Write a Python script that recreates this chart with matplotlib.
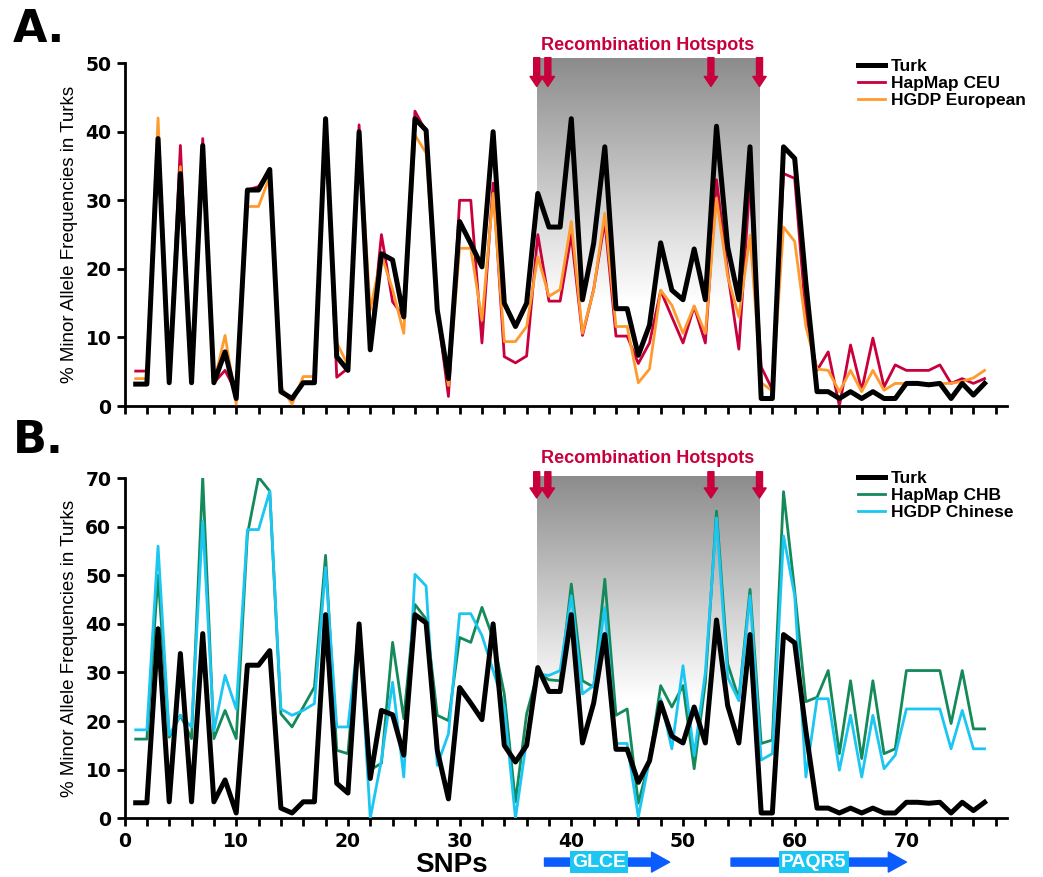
import numpy as np
import matplotlib
matplotlib.use('Agg')
from matplotlib import pyplot as plt

# data, SNP 1..77
snps = list(range(1, 78))

turk = [3.2, 3.2, 39.0, 3.4, 33.9, 3.4, 38.0, 3.4, 7.9, 1.1,
        31.5, 31.5, 34.5, 2.1, 1.1, 3.4, 3.4, 41.9, 7.2, 5.2,
        40.0, 8.2, 22.2, 21.3, 13.0, 41.9, 40.2, 14.0, 4.0, 26.9,
        23.7, 20.3, 40.0, 15.0, 11.6, 15.0, 31.0, 26.1, 26.1, 41.9,
        15.5, 23.7, 37.8, 14.2, 14.2, 7.4, 11.8, 23.8, 16.9, 15.5,
        22.9, 15.5, 40.8, 23.2, 15.5, 37.8, 1.1, 1.1, 37.8, 36.1,
        18.0, 2.1, 2.1, 1.1, 2.1, 1.1, 2.1, 1.1, 1.1, 3.3,
        3.3, 3.1, 3.3, 1.1, 3.3, 1.6, 3.3]

hapmap_ceu = [5.1, 5.1, 39.5, 3.4, 38.0, 3.4, 39.0, 3.4, 5.2, 2.0,
              31.5, 32.0, 34.5, 2.1, 1.1, 3.4, 3.4, 42.0, 4.2, 5.5,
              41.0, 8.5, 25.0, 15.2, 13.0, 43.0, 40.0, 14.0, 1.4, 30.0,
              30.0, 9.2, 32.5, 7.2, 6.3, 7.3, 25.0, 15.3, 15.3, 25.0,
              10.3, 17.0, 27.0, 10.2, 10.2, 6.2, 9.2, 16.8, 13.0, 9.2,
              14.5, 9.2, 33.0, 19.5, 8.3, 33.0, 5.7, 2.4, 33.9, 33.2,
              13.0, 5.2, 7.9, 0.0, 8.9, 2.3, 9.9, 2.8, 6.0, 5.2,
              5.2, 5.2, 6.0, 3.3, 4.0, 3.3, 4.0]

hgdp_european = [4.0, 4.0, 42.0, 3.4, 34.9, 3.4, 37.5, 3.4, 10.3, 0.3,
                 29.1, 29.1, 33.5, 2.8, 0.3, 4.3, 4.3, 41.5, 9.2, 6.0,
                 40.0, 14.0, 22.0, 17.0, 10.6, 39.5, 36.9, 14.0, 3.0, 23.0,
                 23.0, 12.5, 31.0, 9.4, 9.4, 11.6, 21.8, 16.0, 17.0, 26.9,
                 10.6, 16.9, 28.1, 11.6, 11.6, 3.4, 5.4, 16.9, 14.7, 10.6,
                 14.6, 10.6, 30.3, 18.9, 13.0, 24.9, 3.4, 2.2, 26.1, 24.0,
                 11.6, 5.4, 5.2, 2.1, 5.2, 2.1, 5.2, 2.3, 3.3, 3.3,
                 3.3, 3.3, 3.3, 3.3, 3.6, 4.1, 5.2]

hapmap_chb = [16.3, 16.3, 50.0, 16.7, 21.2, 16.4, 70.2, 16.4, 22.2, 16.4,
              58.4, 70.2, 67.3, 21.5, 18.8, 22.9, 27.0, 54.1, 14.0, 13.3,
              40.0, 10.0, 11.3, 36.2, 20.5, 44.0, 41.0, 21.2, 20.1, 37.2,
              36.2, 43.4, 37.0, 25.6, 3.4, 21.5, 30.0, 28.5, 28.3, 48.2,
              28.3, 27.0, 49.2, 21.2, 22.5, 3.1, 12.0, 27.3, 22.9, 27.3,
              10.2, 28.0, 63.2, 31.8, 24.6, 47.1, 15.4, 16.1, 67.2, 46.8,
              24.0, 24.9, 30.4, 13.3, 28.3, 12.3, 28.3, 13.3, 14.3, 30.4,
              30.4, 30.4, 30.4, 19.5, 30.4, 18.4, 18.4]

hgdp_chinese = [18.2, 18.2, 56.0, 17.1, 21.2, 18.8, 61.1, 18.0, 29.4, 22.5,
                59.4, 59.4, 67.3, 22.5, 21.2, 22.2, 23.6, 51.6, 18.8, 18.8,
                39.0, 0.0, 12.0, 28.0, 8.5, 50.2, 47.8, 10.9, 17.4, 42.1,
                42.1, 37.6, 30.4, 22.9, 0.0, 16.1, 29.7, 29.4, 30.4, 45.8,
                25.6, 27.3, 43.4, 15.4, 15.4, 0.3, 12.0, 24.6, 14.3, 31.4,
                13.0, 30.0, 61.8, 29.0, 24.2, 45.8, 12.0, 13.3, 58.1, 45.8,
                8.5, 24.6, 24.6, 9.9, 21.2, 8.5, 21.2, 10.2, 13.0, 22.5,
                22.5, 22.5, 22.5, 14.3, 22.2, 14.3, 14.3]

hotspots = [36.9, 37.9, 52.5, 56.85]
genes = ['GLCE', 'PAQR5']
gene_start = [37.6, 54.3]
gene_end = [48.8, 70.0]
gene_label_x = [42.5, 61.7]

RED = '#C8003C'
ORANGE = '#FF9A2E'
GREEN = '#14895A'
CYAN = '#1CC6F2'
BLUE = '#0A5CFF'

plt.rcParams['font.family'] = ['Liberation Sans', 'DejaVu Sans']

fig = plt.figure(figsize=(10.43, 8.77), dpi=100)
axA = fig.add_axes([0.1194, 0.537, 0.846, 0.391])
axB = fig.add_axes([0.1194, 0.0669, 0.846, 0.388])


def shade(ax, top, fade):
    # grey gradient behind the hotspot region: dark at top, white below `fade`
    g = np.linspace(1, 0, 300)          # row 0 = top
    c = 1 - 0.45 * np.clip((g - fade) / (1 - fade), 0, 1)
    img = np.stack([c, c, c], axis=-1).reshape(300, 1, 3)
    ax.imshow(img, extent=[hotspots[0], hotspots[-1], 0, top], aspect='auto',
              zorder=0, clip_on=False, interpolation='bilinear')


def hotspot_arrows(ax, y_top, y_tip, y_text):
    for h in hotspots:
        ax.annotate('', xy=(h, y_tip), xytext=(h, y_top), annotation_clip=False,
                    arrowprops=dict(arrowstyle='simple,head_length=0.6,head_width=0.8,tail_width=0.36',
                                    mutation_scale=12, color=RED, shrinkA=0, shrinkB=0))
    ax.text((hotspots[0] + hotspots[-1]) / 2, y_text, 'Recombination Hotspots', color=RED,
            fontsize=13, fontweight='bold', ha='center', va='center', clip_on=False)


def style(ax, ymax):
    ax.set_xlim(0, 79)
    ax.set_ylim(0, ymax)
    for s in ['top', 'right']:
        ax.spines[s].set_visible(False)
    for s in ['left', 'bottom']:
        ax.spines[s].set_linewidth(2)
    ax.set_xticks(range(0, 80, 10))
    ax.set_xticks(range(0, 80, 2), minor=True)
    ax.set_yticks(range(0, ymax + 1, 10))
    ax.tick_params(which='both', direction='out', length=6, width=2)
    for lab in ax.get_yticklabels() + ax.get_xticklabels():
        lab.set_family('DejaVu Sans')
        lab.set_fontweight('bold')
        lab.set_fontsize(13.5)
    ax.set_ylabel('% Minor Allele Frequencies in Turks', fontsize=13.5,
                  family=['Liberation Sans Narrow', 'Liberation Sans'], labelpad=5)


def legend(ax, y):
    h, l = ax.get_legend_handles_labels()
    ax.legend([h[2], h[0], h[1]], [l[2], l[0], l[1]], loc='upper left', bbox_to_anchor=(0.831, y),
              frameon=False, prop=dict(weight='bold', size=12.5), handlelength=1.55,
              handletextpad=0.35, labelspacing=0.1, borderpad=0, borderaxespad=0)


# ---- panel A
shade(axA, 50.6, 0.3)
axA.plot(snps, hapmap_ceu, color=RED, lw=2, label='HapMap CEU', zorder=2)
axA.plot(snps, hgdp_european, color=ORANGE, lw=2, label='HGDP European', zorder=3)
axA.plot(snps, turk, color='black', lw=3.6, label='Turk', zorder=4)
style(axA, 50)
axA.set_xticklabels([])
hotspot_arrows(axA, 50.8, 46.6, 52.6)
legend(axA, 1.013)

# ---- panel B
shade(axB, 70.3, 0.35)
axB.plot(snps, hapmap_chb, color=GREEN, lw=2, label='HapMap CHB', zorder=2)
axB.plot(snps, hgdp_chinese, color=CYAN, lw=2, label='HGDP Chinese', zorder=3)
axB.plot(snps, turk, color='black', lw=3.6, label='Turk', zorder=4)
style(axB, 70)
hotspot_arrows(axB, 71.3, 65.9, 74.1)
legend(axB, 1.02)

axB.text(29.3, -9.6, 'SNPs', fontsize=20, fontweight='bold', ha='center', va='center', clip_on=False)

# gene arrows under the x axis
for name, x0, x1, xl in zip(genes, gene_start, gene_end, gene_label_x):
    axB.annotate('', xy=(x1, -9), xytext=(x0, -9), annotation_clip=False,
                 arrowprops=dict(arrowstyle='simple,head_length=0.65,head_width=0.72,tail_width=0.29',
                                 mutation_scale=20, color=BLUE, shrinkA=0, shrinkB=0))
    axB.text(xl, -9, name, color='white', fontsize=14, fontweight='bold', ha='center', va='center',
             clip_on=False, bbox=dict(facecolor=CYAN, edgecolor='none', pad=1.6))

fig.text(0.012, 0.966, 'A.', fontsize=32, fontweight='bold', family='DejaVu Sans', va='center')
fig.text(0.012, 0.498, 'B.', fontsize=32, fontweight='bold', family='DejaVu Sans', va='center')

fig.savefig('out.png', dpi=100)
